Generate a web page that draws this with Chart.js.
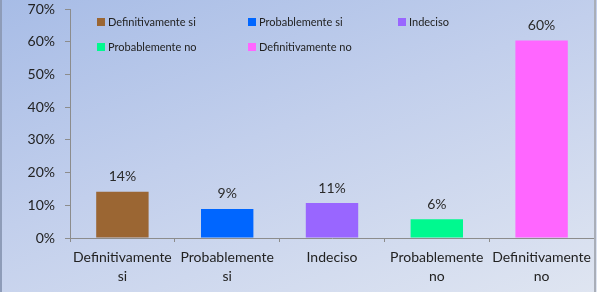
<!DOCTYPE html>
<html>
<head>
<meta charset="utf-8">
<script src="https://cdn.jsdelivr.net/npm/chart.js@4"></script>
<style>
  html, body { margin: 0; padding: 0; }
  body { width: 597px; height: 292px; overflow: hidden; position: relative;
         background: linear-gradient(160deg, #a7bce6 0%, #c2cfec 45%, #dfe5f1 100%); }
  canvas { position: absolute; left: 0; top: 0; }
  .edgeL { position: absolute; left: 0; top: 0; width: 2px; height: 292px; background: #8e9cb8; }
  .edgeR { position: absolute; left: 594px; top: 0; width: 2px; height: 292px; background: #a9aeb8; }
</style>
</head>
<body>
<canvas id="c" width="597" height="292"></canvas>
<div class="edgeL"></div><div class="edgeR"></div>
<script>
const categories = [["Definitivamente","si"],["Probablemente","si"],["Indeciso"],["Probablemente","no"],["Definitivamente","no"]];
const legendNames = ["Definitivamente si","Probablemente si","Indeciso","Probablemente no","Definitivamente no"];
const values = [14.1, 8.9, 10.7, 5.7, 60.4];
const valueLabels = ["14%","9%","11%","6%","60%"];
const colors = ["#9b6633","#0066ff","#9966ff","#00f98f","#ff66ff"];
const yTicks = [0,10,20,30,40,50,60,70];

const FONT = "Lato, 'Open Sans', sans-serif";

const valueLabelPlugin = {
  id: 'valueLabels',
  afterDatasetsDraw(chart) {
    const ctx = chart.ctx;
    const meta = chart.getDatasetMeta(0);
    ctx.save();
    ctx.font = "14px " + FONT;
    ctx.fillStyle = "#2a2a2a";
    ctx.textAlign = "center";
    ctx.textBaseline = "middle";
    meta.data.forEach((bar, i) => {
      ctx.fillText(valueLabels[i], bar.x, bar.y - 15);
    });
    ctx.restore();
  }
};

const gridLegendPlugin = {
  id: 'gridLegend',
  afterDraw(chart) {
    const ctx = chart.ctx;
    const ca = chart.chartArea;
    const colX = [ca.left + 27, ca.left + 178, ca.left + 328];
    const rowY = [22, 47];
    ctx.save();
    ctx.font = "11px " + FONT;
    ctx.textBaseline = "middle";
    ctx.textAlign = "left";
    legendNames.forEach((name, i) => {
      const x = colX[i % 3], y = rowY[Math.floor(i / 3)];
      ctx.fillStyle = colors[i];
      ctx.fillRect(x, y - 4, 8, 8);
      ctx.fillStyle = "#222";
      ctx.fillText(name, x + 11, y);
    });
    ctx.restore();
  }
};

new Chart(document.getElementById('c'), {
  type: 'bar',
  data: {
    labels: categories,
    datasets: [{
      data: values,
      backgroundColor: colors,
      borderWidth: 0,
      barPercentage: 0.5,
      categoryPercentage: 1.0
    }]
  },
  options: {
    responsive: false,
    animation: false,
    layout: { padding: { top: 9, right: 3, left: 0, bottom: 0 } },
    plugins: { legend: { display: false }, tooltip: { enabled: false } },
    scales: {
      y: {
        min: 0, max: 70,
        afterBuildTicks(scale) { scale.ticks = yTicks.map(v => ({ value: v })); },
        afterFit(scale) { scale.width = 70; scale.paddingTop = 0; scale.paddingBottom = 0; },
        grid: { drawOnChartArea: false, color: "#8c8c8c", tickLength: 5, tickColor: "#8c8c8c" },
        border: { color: "#8c8c8c", width: 1 },
        ticks: { callback: v => v + "%", color: "#222", padding: 10, font: { family: FONT, size: 14 } }
      },
      x: {
        afterFit(scale) { scale.height = 54; scale.paddingLeft = 0; scale.paddingRight = 0; },
        grid: { drawOnChartArea: false, offset: true, color: "#8c8c8c", tickLength: 4, tickColor: "#8c8c8c" },
        border: { color: "#8c8c8c", width: 1 },
        ticks: { color: "#222", padding: 6, maxRotation: 0, autoSkip: false, font: { family: FONT, size: 14, lineHeight: 1.35 } }
      }
    }
  },
  plugins: [valueLabelPlugin, gridLegendPlugin]
});
</script>
</body>
</html>
